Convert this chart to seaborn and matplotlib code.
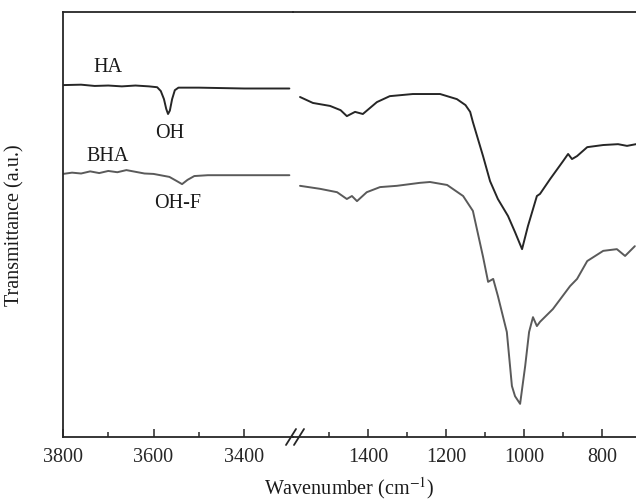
import numpy as np
import pandas as pd
import seaborn as sns
from matplotlib import pyplot as plt
from matplotlib.lines import Line2D

# FTIR spectra (wavenumber cm-1, transmittance a.u.)
ha_left_wn = [3800, 3760, 3730, 3700, 3670, 3640, 3610, 3592, 3584, 3577, 3572,
              3568, 3564, 3559, 3553, 3545, 3500, 3400, 3300]
ha_left_t = [82.8, 82.9, 82.6, 82.7, 82.5, 82.7, 82.5, 82.3, 81.4, 79.5, 77.2,
             76.0, 76.8, 79.5, 81.6, 82.2, 82.2, 82.0, 82.0]

bha_left_wn = [3800, 3780, 3760, 3740, 3720, 3700, 3680, 3660, 3640, 3620, 3600,
               3580, 3565, 3550, 3537, 3525, 3510, 3480, 3400, 3300]
bha_left_t = [61.9, 62.2, 62.0, 62.5, 62.1, 62.6, 62.3, 62.8, 62.4, 62.0, 61.9,
              61.5, 61.2, 60.3, 59.5, 60.5, 61.4, 61.6, 61.6, 61.6]

ha_right_wn = [1574, 1541, 1497, 1470, 1454, 1433, 1413, 1377, 1344, 1285, 1215,
               1172, 1150, 1138, 1131, 1118, 1105, 1087, 1067, 1041, 1023, 1005,
               990, 967, 959, 933, 900, 887, 877, 864, 838, 797, 759, 736, 713]
ha_right_t = [80.0, 78.6, 77.9, 76.9, 75.5, 76.5, 76.0, 78.8, 80.2, 80.7, 80.7,
              79.5, 78.1, 76.5, 74.1, 70.1, 66.1, 60.2, 56.0, 52.0, 48.2, 44.2,
              49.6, 56.7, 57.2, 60.7, 64.9, 66.6, 65.4, 66.1, 68.2, 68.7, 68.9, 68.5, 68.9]

bha_right_wn = [1574, 1523, 1479, 1454, 1441, 1428, 1403, 1369, 1326, 1267, 1241,
                1197, 1156, 1131, 1105, 1092, 1079, 1067, 1044, 1031, 1023, 1010,
                997, 987, 977, 967, 959, 926, 882, 864, 838, 797, 762, 741, 716]
bha_right_t = [59.1, 58.4, 57.6, 56.0, 56.7, 55.5, 57.6, 58.8, 59.1, 59.8, 60.0,
               59.3, 56.7, 53.2, 42.4, 36.5, 37.2, 33.2, 24.7, 12.0, 9.6, 7.8,
               16.7, 24.7, 28.2, 26.1, 27.1, 30.1, 35.5, 37.2, 41.4, 43.8, 44.2, 42.6, 44.9]

sns.set_style("ticks")
plt.rcParams['font.family'] = ['Liberation Serif', 'DejaVu Serif']
plt.rcParams['mathtext.fontset'] = 'stix'

W, H = 636, 502
fig = plt.figure(figsize=(W / 100, H / 100), dpi=100)

x0, xb, x1 = 63, 293, 636
y_top, y_bot = 13, 438
ax_l = fig.add_axes([x0 / W, 1 - y_bot / H, (xb - x0) / W, (y_bot - y_top) / H])
ax_r = fig.add_axes([xb / W, 1 - y_bot / H, (x1 - xb) / W, (y_bot - y_top) / H])

dark = '#262626'
grey = '#5a5a5a'
fs = 14.5
for ax, segs in [(ax_l, [(ha_left_wn, ha_left_t, dark), (bha_left_wn, bha_left_t, grey)]),
                 (ax_r, [(ha_right_wn, ha_right_t, dark), (bha_right_wn, bha_right_t, grey)])]:
    for wn, t, c in segs:
        sns.lineplot(x=wn, y=t, ax=ax, color=c, lw=1.4, estimator=None)
    ax.set_ylim(0, 100)
    ax.set_yticks([])
    ax.set_xlabel('')
    ax.set_ylabel('')
    ax.patch.set_alpha(0)
    ax.tick_params(axis='x', direction='in', length=6, width=1.1, colors=dark,
                   labelsize=fs, pad=7)
    ax.tick_params(axis='x', which='minor', direction='in', length=3.5, width=1.1, colors=dark)
    for s in ax.spines.values():
        s.set_color(dark)
        s.set_linewidth(1.3)

ax_l.set_xlim(3800, 3292)
ax_l.set_xticks([3800, 3600, 3400])
ax_l.set_xticks([3700, 3500], minor=True)
ax_l.spines['right'].set_visible(False)

ax_r.set_xlim(1592, 713)
ax_r.set_xticks([1400, 1200, 1000, 800])
ax_r.set_xticks([1500, 1300, 1100, 900], minor=True)
ax_r.spines['left'].set_visible(False)
ax_r.spines['right'].set_visible(False)

# axis break marks
for dx in (0, 8):
    fig.add_artist(Line2D([(286 + dx) / W, (296 + dx) / W],
                          [1 - 446 / H, 1 - 430 / H],
                          transform=fig.transFigure, color=dark, lw=1.3))

# labels on the curves
txt = dict(fontsize=fs, color='#1a1a1a', ha='center', va='center')
fig.text(108 / W, 1 - 67 / H, 'HA', **txt)
fig.text(170 / W, 1 - 134 / H, 'OH', **txt)
fig.text(108 / W, 1 - 157 / H, 'BHA', **txt)
fig.text(178 / W, 1 - 204 / H, 'OH-F', **txt)

fig.text(15 / W, 1 - 225 / H, 'Transmittance (a.u.)', rotation=90, fontsize=fs,
         color='#1a1a1a', ha='center', va='center')
fig.text(349 / W, 1 - 488 / H, r'Wavenumber (cm$^{-1}$)', fontsize=fs,
         color='#1a1a1a', ha='center', va='center')

fig.savefig('out.png', dpi=100)
